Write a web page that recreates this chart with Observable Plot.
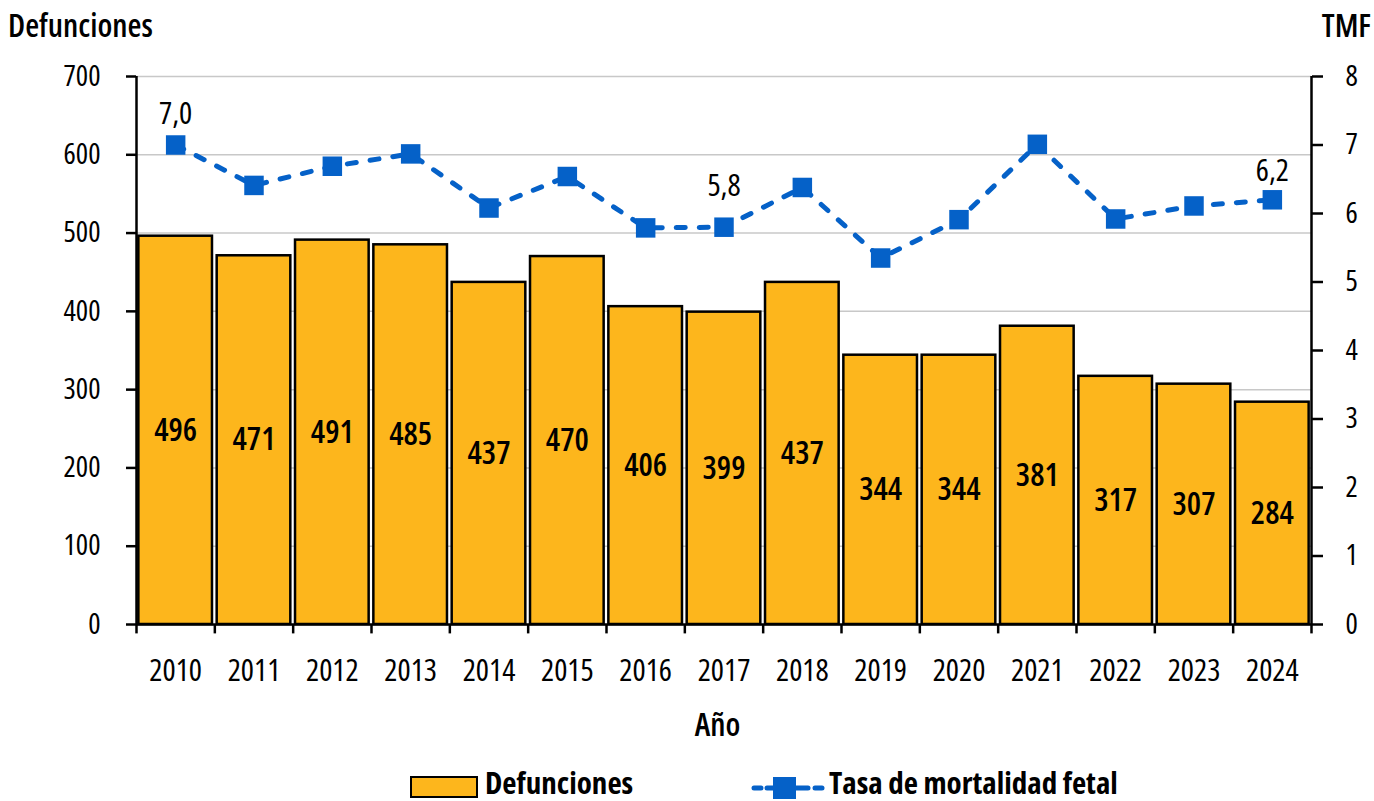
<!DOCTYPE html>
<html><head><meta charset="utf-8">
<script src="https://cdn.jsdelivr.net/npm/d3@7"></script>
<script src="https://cdn.jsdelivr.net/npm/@observablehq/plot@0.6"></script>
<style>
body{margin:0;background:#fff;}
#wrap{position:relative;width:1374px;height:801px;font-family:"Open Sans",sans-serif;font-stretch:75%;color:#000;}
#wrap svg, #wrap svg text{font-stretch:75%;}
#wrap > svg.chart{position:absolute;left:0;top:0;}
.t{position:absolute;font-size:32px;line-height:32px;font-weight:600;white-space:nowrap;}
.lt{position:absolute;font-size:31px;line-height:31px;font-weight:700;white-space:nowrap;}
.box{position:absolute;box-sizing:border-box;width:68px;height:22px;background:#FDB61C;border:2.5px solid #000;}
.sw{position:absolute;}
</style></head><body><div id="wrap"></div>
<script>
const years = [2010,2011,2012,2013,2014,2015,2016,2017,2018,2019,2020,2021,2022,2023,2024];
const defunciones = [496,471,491,485,437,470,406,399,437,344,344,381,317,307,284];
const tmf = [7.0,6.41,6.69,6.87,6.08,6.54,5.79,5.8,6.38,5.35,5.91,7.01,5.92,6.11,6.2];
const leftTicks = [0,100,200,300,400,500,600,700];
const rightTicks = [0,1,2,3,4,5,6,7,8];
const labelledYears = [2010,2017,2024];
const titleLeft = "Defunciones";
const titleRight = "TMF";
const xTitle = "Año";
const legendBars = "Defunciones";
const legendLine = "Tasa de mortalidad fetal";

const FONT = '"Open Sans",sans-serif';
const BLUE = "#0561C8";
const ORANGE = "#FDB61C";
const k = leftTicks[leftTicks.length-1] / rightTicks[rightTicks.length-1];
const data = years.map((year,i)=>({year, value: defunciones[i], tmf: tmf[i]}));
const boundaries = [...years.map(y=>y-0.5), years[years.length-1]+0.5];
const fmt = v => v.toFixed(1).replace(".", ",");
const lab = (yr, dy) => Plot.text(data.filter(d=>d.year===yr), {x:"year", y:d=>d.tmf*k, text:d=>fmt(d.tmf), dy, fontSize:31});

const chart = Plot.plot({
  width:1374, height:801, marginLeft:136, marginRight:63, marginTop:76, marginBottom:177,
  className:"chart",
  style:{fontFamily:FONT, fontSize:"29px", fontStretch:"75%", color:"#000", background:"transparent", overflow:"visible"},
  x:{domain:[years[0]-0.5, years[years.length-1]+0.5]},
  y:{domain:[leftTicks[0], leftTicks[leftTicks.length-1]]},
  marks:[
    Plot.gridY(leftTicks.filter(d=>d>0), {stroke:"#c8c8c8", strokeOpacity:1, strokeWidth:1.5}),
    Plot.rectY(data, {x1:d=>d.year-0.47, x2:d=>d.year+0.47, y1:0, y2:"value", fill:ORANGE, stroke:"#000", strokeWidth:2.5}),
    Plot.text(data, {x:"year", y:d=>d.value/2, text:d=>String(d.value), fontSize:32, fontWeight:600}),
    Plot.ruleY([0], {stroke:"#000", strokeWidth:2.5}),
    Plot.ruleX(boundaries, {y1:0, y2:-12, stroke:"#000", strokeWidth:2.5}),
    Plot.ruleX([boundaries[0], boundaries[boundaries.length-1]], {y1:0, y2:leftTicks[leftTicks.length-1], stroke:"#000", strokeWidth:2.5}),
    Plot.axisY({ticks:leftTicks, tickSize:10, tickPadding:26, tickFormat:d=>String(d), label:null, strokeWidth:2.5, fontSize:29}),
    Plot.axisY({anchor:"right", ticks:rightTicks.map(t=>t*k), tickSize:11, tickPadding:23, tickFormat:d=>String(Math.round(d/k)), label:null, strokeWidth:2.5, fontSize:29}),
    Plot.axisX({ticks:years, tickSize:0, tickPadding:34, tickFormat:d=>String(d), label:null, fontSize:31}),
    Plot.line(data, {x:"year", y:d=>d.tmf*k, stroke:BLUE, strokeWidth:5, strokeDasharray:"9,14", strokeLinecap:"round"}),
    Plot.dot(data, {x:"year", y:d=>d.tmf*k, symbol:"square", r:11, fill:BLUE, stroke:null}),
    lab(labelledYears[0], -31),
    lab(labelledYears[1], -41),
    lab(labelledYears[2], -29)
  ]
});

const wrap = document.getElementById("wrap");
wrap.appendChild(chart);
const add = (html) => { const d = document.createElement("div"); d.innerHTML = html; wrap.appendChild(d.firstElementChild); };
add(`<div class="t" style="left:8px;top:9px">${titleLeft}</div>`);
add(`<div class="t" style="right:3px;top:9px">${titleRight}</div>`);
add(`<div class="t" style="left:0;width:1435px;text-align:center;top:708px">${xTitle}</div>`);
add(`<div class="box" style="left:410px;top:776px"></div>`);
add(`<div class="lt" style="left:485px;top:767px">${legendBars}</div>`);
add(`<svg class="sw" width="76" height="26" style="left:750px;top:775px"><g stroke="${BLUE}" stroke-width="5" stroke-linecap="round"><line x1="4" x2="11" y1="13" y2="13"/><line x1="17" x2="58" y1="13" y2="13"/><line x1="65" x2="72" y1="13" y2="13"/></g><rect x="23" y="2" width="23" height="22" fill="${BLUE}"/></svg>`);
add(`<div class="lt" style="left:829px;top:767px">${legendLine}</div>`);
</script></body></html>
